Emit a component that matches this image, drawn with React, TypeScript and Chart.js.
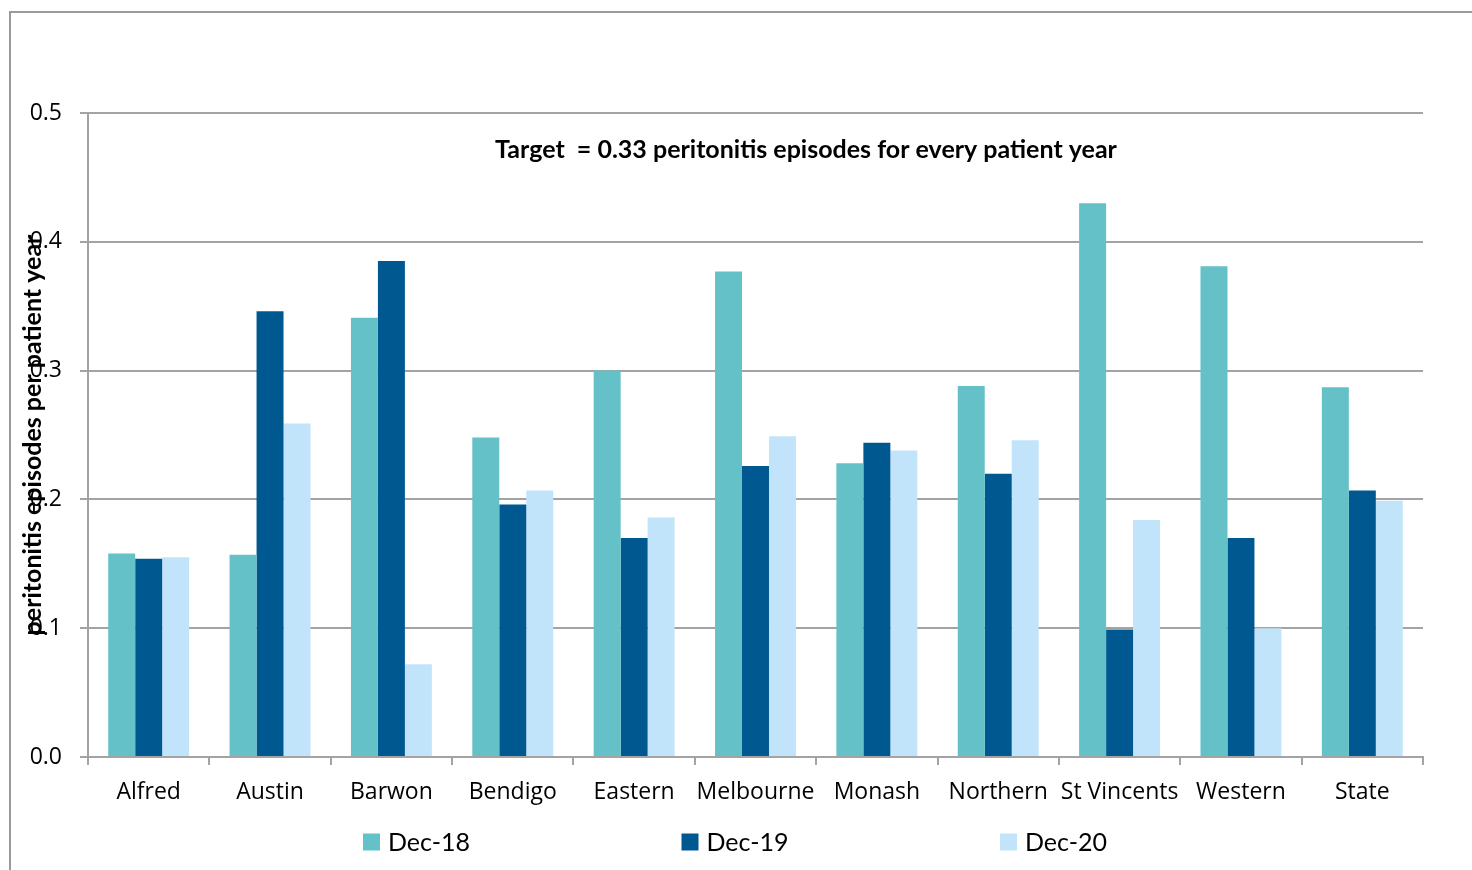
import React, { useEffect, useRef } from "react";
import { Chart, registerables } from "chart.js";

Chart.register(...registerables);

const categories = ["Alfred", "Austin", "Barwon", "Bendigo", "Eastern", "Melbourne", "Monash", "Northern", "St Vincents", "Western", "State"];
const dec18 = [0.158, 0.157, 0.341, 0.248, 0.300, 0.377, 0.228, 0.288, 0.430, 0.381, 0.287];
const dec19 = [0.154, 0.346, 0.385, 0.196, 0.170, 0.226, 0.244, 0.220, 0.099, 0.170, 0.207];
const dec20 = [0.155, 0.259, 0.072, 0.207, 0.186, 0.249, 0.238, 0.246, 0.184, 0.100, 0.199];
const seriesLabels = ["Dec-18", "Dec-19", "Dec-20"];
const seriesColors = ["#64C1C8", "#005891", "#C2E4FB"];
const yTicks = [0, 0.1, 0.2, 0.3, 0.4, 0.5];
const chartTitle = "Target  = 0.33 peritonitis episodes for every patient year";
const yAxisTitle = "peritonitis episodes per patient year";

const GRID = "#a3a3a3";

const overlayPlugin = {
  id: "overlayText",
  afterDraw(chart: any) {
    const { ctx, chartArea } = chart;
    ctx.save();
    ctx.font = "bold 25px Lato";
    ctx.fillStyle = "#000";
    ctx.textAlign = "center";
    ctx.textBaseline = "middle";
    ctx.fillText(chartTitle, chartArea.left + 718, chartArea.top + 37);
    ctx.save();
    ctx.translate(33, (chartArea.top + chartArea.bottom) / 2);
    ctx.rotate(-Math.PI / 2);
    ctx.font = "bold 25px Lato";
    ctx.fillText(yAxisTitle, 0, 0);
    ctx.restore();
    const ds = chart.data.datasets;
    ctx.font = "25px Lato";
    ctx.textAlign = "left";
    ds.forEach((d: any, i: number) => {
      const x = 363 + i * 318.5;
      const y = 842;
      ctx.fillStyle = d.backgroundColor;
      ctx.fillRect(x, y - 8.5, 17, 17);
      ctx.fillStyle = "#000";
      ctx.fillText(d.label, x + 25, y + 1);
    });
    ctx.restore();
  },
};

export default function App() {
  const ref = useRef<HTMLCanvasElement | null>(null);
  useEffect(() => {
    let chart: any = null;
    let cancelled = false;
    const fonts: any = (document as any).fonts;
    const loads = fonts
      ? Promise.all([
          fonts.load("23px 'Open Sans'"),
          fonts.load("bold 25px Lato"),
          fonts.load("25px Lato"),
        ]).catch(() => null)
      : Promise.resolve(null);
    loads.then(() => {
      if (cancelled || !ref.current) return;
      chart = new Chart(ref.current, {
        type: "bar",
        data: {
          labels: categories,
          datasets: [dec18, dec19, dec20].map((vals, i) => ({
            label: seriesLabels[i],
            data: vals,
            backgroundColor: seriesColors[i],
            borderWidth: 0,
            categoryPercentage: 0.667,
            barPercentage: 1.0,
          })),
        },
        options: {
          animation: false,
          responsive: true,
          maintainAspectRatio: false,
          layout: { padding: { top: 113, right: 49, left: 0, bottom: 53 } },
          plugins: {
            legend: { display: false },
            tooltip: { enabled: false },
            title: { display: false },
          },
          scales: {
            x: {
              afterFit: (s: any) => { s.height = 60; },
              grid: {
                offset: true,
                drawOnChartArea: false,
                drawTicks: true,
                tickLength: 8,
                color: GRID,
                lineWidth: 2,
              },
              border: { display: true, color: GRID, width: 2 },
              ticks: {
                font: { family: "'Open Sans'", size: 23 },
                color: "#000",
                padding: 14,
                maxRotation: 0,
                autoSkip: false,
              },
            },
            y: {
              min: 0,
              max: 0.5,
              afterFit: (s: any) => { s.width = 88; },
              afterBuildTicks: (s: any) => { s.ticks = yTicks.map((v) => ({ value: v })); },
              grid: { color: GRID, lineWidth: 2, tickLength: 8 },
              border: { display: true, color: GRID, width: 2 },
              ticks: {
                font: { family: "'Open Sans'", size: 23 },
                color: "#000",
                padding: 18,
                callback: (v: any) => Number(v).toFixed(1),
              },
            },
          },
        },
        plugins: [overlayPlugin],
      });
    });
    return () => {
      cancelled = true;
      if (chart) chart.destroy();
    };
  }, []);

  return (
    <div style={{ position: "fixed", left: 0, top: 0, width: 1472, height: 870, overflow: "hidden", background: "#fff" }}>
      <div style={{ position: "absolute", left: 9, top: 11, width: 1600, height: 1000, border: "2px solid #9a9a9a", boxSizing: "border-box" }} />
      <div style={{ position: "absolute", left: 0, top: 0, width: 1472, height: 870 }}>
        <canvas ref={ref} />
      </div>
    </div>
  );
}
